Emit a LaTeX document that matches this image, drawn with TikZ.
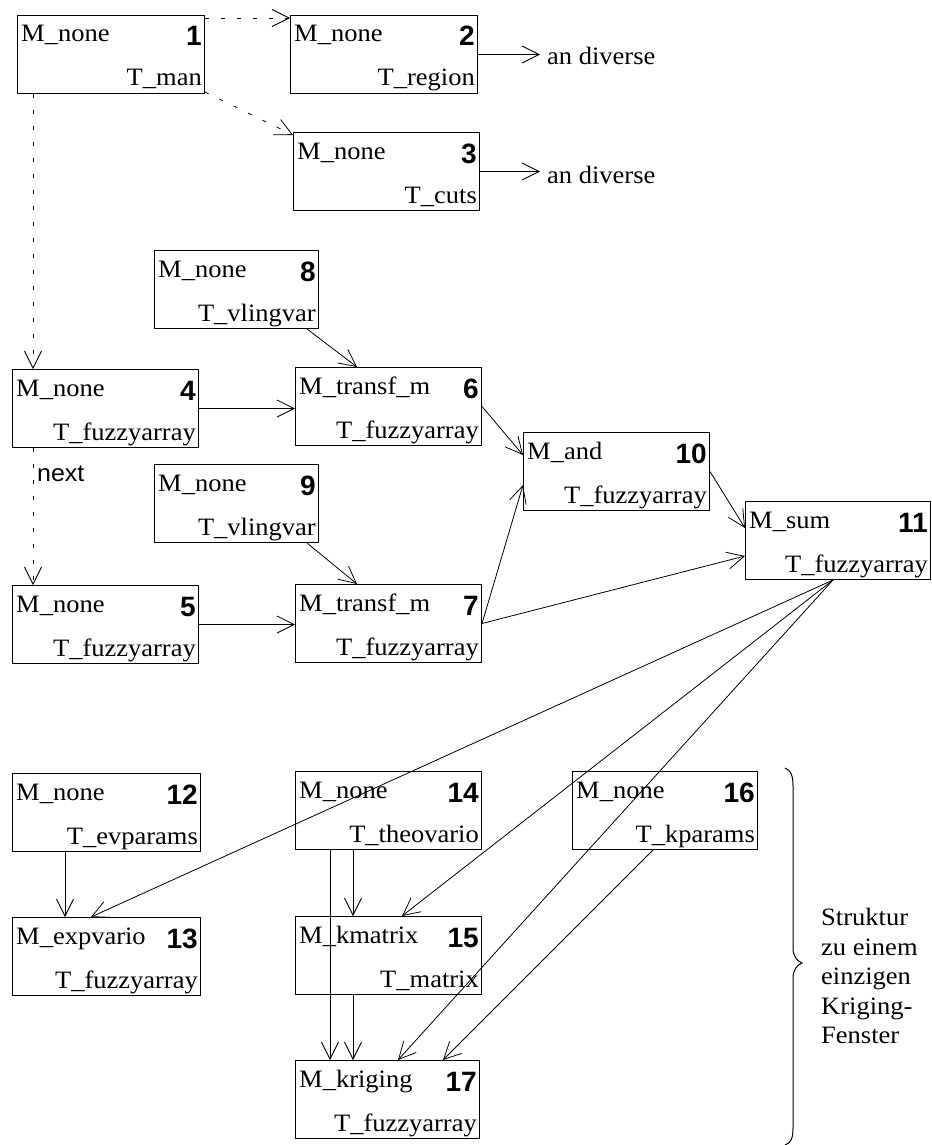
\documentclass[tikz,border=0pt]{standalone}
\usepackage{fontspec}
\setmainfont[FakeStretch=1.06]{Liberation Serif}
\newfontfamily\numfont{Liberation Sans}
\newfontfamily\nextfont[FakeStretch=1.04]{Liberation Sans}
\usetikzlibrary{arrows.meta,calc}
\tikzset{
  box/.style={draw, line width=1pt, rectangle, minimum height=78pt, inner sep=0pt, anchor=north west},
  mtext/.style={inner sep=0pt, font=\fontsize{25}{30}\selectfont},
  numtext/.style={inner sep=0pt, font=\fontsize{28}{30}\numfont\bfseries},
  conn/.style={line width=0.8pt, -{Straight Barb[length=17pt,width=17pt,line width=0.8pt]}},
  dconn/.style={conn, dash pattern=on 4pt off 12pt},
}
\newcommand{\fbx}[7]{%
  \node[box, minimum width=#4pt] (#1) at (#2,#3) {};
  \node[mtext, anchor=base west] (#1m) at ([xshift=4pt, yshift=-27pt]#1.north west) {#5};
  \node[numtext, anchor=base east] (#1n) at ([xshift=-3pt, yshift=-31pt]#1.north east) {#6};
  \node[mtext, anchor=base east] (#1t) at ([xshift=-3pt, yshift=8pt]#1.south east) {#7};
}
\begin{document}
\begin{tikzpicture}[x=1pt, y=-1pt]
\useasboundingbox (0,0) rectangle (931,1145);
\fbx{b1}{17}{15}{187}{M\_none}{1}{T\_man}
\fbx{b2}{290}{15}{187}{M\_none}{2}{T\_region}
\fbx{b3}{293}{132}{186}{M\_none}{3}{T\_cuts}
\fbx{b8}{154}{250}{164}{M\_none}{8}{T\_vlingvar}
\fbx{b4}{12}{369}{186}{M\_none}{4}{T\_fuzzyarray}
\fbx{b6}{295}{367}{186}{M\_transf\_m}{6}{T\_fuzzyarray}
\fbx{b9}{154}{464}{164}{M\_none}{9}{T\_vlingvar}
\fbx{b5}{12}{585}{186}{M\_none}{5}{T\_fuzzyarray}
\fbx{b7}{295}{584}{186}{M\_transf\_m}{7}{T\_fuzzyarray}
\fbx{b10}{523}{432}{186}{M\_and}{10}{T\_fuzzyarray}
\fbx{b11}{745}{501}{185}{M\_sum}{11}{T\_fuzzyarray}
\fbx{b12}{12}{773}{188}{M\_none}{12}{T\_evparams}
\fbx{b14}{295}{771}{186}{M\_none}{14}{T\_theovario}
\fbx{b16}{572}{771}{185}{M\_none}{16}{T\_kparams}
\fbx{b13}{12}{917}{188}{M\_expvario}{13}{T\_fuzzyarray}
\fbx{b15}{295}{916}{186}{M\_kmatrix}{15}{T\_matrix}
\fbx{b17}{295}{1060}{184}{M\_kriging}{17}{T\_fuzzyarray}

\node[mtext, anchor=base west] (ad2) at (547,65) {an diverse};
\node[mtext, anchor=base west] (ad3) at (547,183) {an diverse};
\node[inner sep=0pt, anchor=base west, font=\fontsize{24}{29}\nextfont] (nx) at (37,481) {next};
\node[mtext, align=left, anchor=north west, font=\fontsize{25}{29.5}\selectfont] (st) at (821,908) {Struktur\\ zu einem\\einzigen\\Kriging-\\Fenster};

% dashed connectors
\draw[dconn] ([yshift=-3pt]b1.north east) -- ([yshift=-3pt]b2.north west);
\draw[dconn] ([yshift=2pt]b1.south east) -- ([yshift=-3pt]b3.north west);
\draw[dconn] ([xshift=16pt]b1.south west) -- ([xshift=21pt]b4.north west);
\draw[dconn] ([xshift=21pt]b4.south west) -- ([xshift=21pt]b5.north west);

% outputs
\draw[conn, shorten >=7pt] (b2.east) -- (b2.east -| ad2.west);
\draw[conn, shorten >=7pt] (b3.east) -- (b3.east -| ad3.west);

% solid connectors
\draw[conn] ([xshift=153pt]b8.south west) -- ([xshift=62pt]b6.north west);
\draw[conn] ([xshift=153pt]b9.south west) -- ([xshift=62pt]b7.north west);
\draw[conn] (b4.east) -- (b4.east -| b6.west);
\draw[conn] (b5.east) -- (b5.east -| b7.west);
\draw[conn] (b6.east) -- ([yshift=-23pt]b10.north west);
\draw[conn] (b7.east) -- ([yshift=-53pt]b10.north west);
\draw[conn] (b7.east) -- ([yshift=-55pt]b11.north west);
\draw[conn] (b10.east) -- ([yshift=-27pt]b11.north west);
\draw[conn] ([xshift=88pt]b11.south west) -- ([xshift=79pt]b13.north west);
\draw[conn] ([xshift=88pt]b11.south west) -- ([xshift=107pt]b15.north west);
\draw[conn] ([xshift=88pt]b11.south west) -- ([xshift=103pt]b17.north west);
\draw[conn] ([xshift=81pt]b16.south west) -- ([xshift=148pt]b17.north west);
\draw[conn] ([xshift=53pt]b12.south west) -- ([xshift=53pt]b13.north west);
\draw[conn] ([xshift=58pt]b14.south west) -- ([xshift=58pt]b15.north west);
\draw[conn] ([xshift=35pt]b14.south west) -- ([xshift=35pt]b17.north west);
\draw[conn] ([xshift=58pt]b15.south west) -- ([xshift=58pt]b17.north west);

% brace
\draw[line width=1pt] (785,768) .. controls (791,770) and (793,776) .. (793,786)
  -- (793,948) .. controls (793,956) and (797,961) .. (802,963)
  .. controls (797,965) and (793,970) .. (793,978)
  -- (793,1128) .. controls (793,1138) and (791,1143) .. (785,1145);
\end{tikzpicture}
\end{document}
